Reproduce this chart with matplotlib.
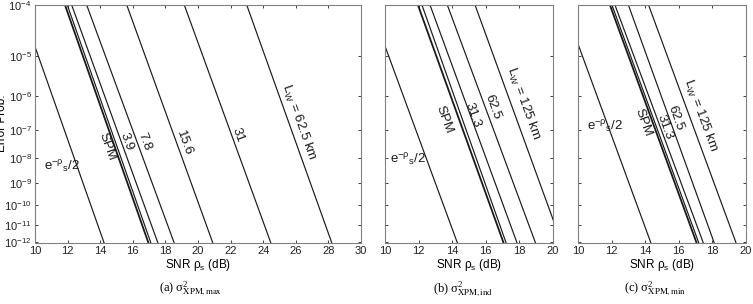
import numpy as np
import matplotlib
matplotlib.use("Agg")
import matplotlib.pyplot as plt

plt.rcParams['font.family'] = ['Liberation Sans', 'DejaVu Sans']
plt.rcParams['mathtext.fontset'] = 'custom'
plt.rcParams['mathtext.rm'] = 'Liberation Sans'
plt.rcParams['mathtext.it'] = 'Liberation Sans:italic'
plt.rcParams['mathtext.default'] = 'regular'

# error probability range (top / bottom of every panel)
P_TOP = 1e-4
P_BOT = 1e-12
yexp = [4, 5, 6, 7, 8, 9, 10, 11, 12]

# each curve: SNR (dB) where it crosses P_TOP and where it crosses P_BOT
a_names = ['exp', 'SPM', '', '3.9', '7.8', '15.6', '31', '62.5']
a_top = [9.1, 11.84, 11.98, 12.25, 13.17, 15.63, 19.16, 22.99]
a_bot = [14.23, 16.95, 17.1, 17.53, 18.53, 20.9, 24.46, 28.2]

b_names = ['exp', 'SPM', '', '31.3', '62.5', '125']
b_top = [9.1, 11.96, 12.2, 12.68, 13.71, 15.36]
b_bot = [14.3, 17.05, 17.2, 17.85, 18.95, 20.5]

c_names = ['exp', 'SPM', '', '31.3', '62.5', '125']
c_top = [9.15, 11.9, 12.02, 12.2, 13.0, 14.2]
c_bot = [14.33, 17.05, 17.18, 17.45, 18.1, 19.4]

captions = [r'(a) $\sigma^2_{\mathrm{XPM,max}}$',
            r'(b) $\sigma^2_{\mathrm{XPM,ind}}$',
            r'(c) $\sigma^2_{\mathrm{XPM,min}}$']

# label placement (axes fraction) for each curve label
a_lab = [(0.083, 0.318), (0.22, 0.403), None, (0.281, 0.425), (0.334, 0.425),
         (0.457, 0.42), (0.623, 0.453), (0.807, 0.505)]
b_lab = [(0.137, 0.347), (0.351, 0.516), None, (0.524, 0.537), (0.643, 0.571),
         (0.821, 0.587)]
c_lab = [(0.161, 0.486), (0.387, 0.503), None, (0.518, 0.486), (0.583, 0.524),
         (0.726, 0.537)]


def fwd(p):
    with np.errstate(all='ignore'):
        return -np.log10(-np.log10(p) - 0.7)


def inv(t):
    with np.errstate(all='ignore'):
        return 10.0 ** (-(10.0 ** (-t) + 0.7))


fig = plt.figure(figsize=(7.53, 3.04), dpi=100)
W, H = 753.0, 304.0
boxes = [(35, 361), (385, 553), (578, 746)]
xmax = [30, 20, 20]
panels = [(a_names, a_top, a_bot, a_lab),
          (b_names, b_top, b_bot, b_lab),
          (c_names, c_top, c_bot, c_lab)]
cap_x = [191, 463, 655]

for i, (names, tops, bots, labs) in enumerate(panels):
    l, r = boxes[i]
    ax = fig.add_axes([l / W, (H - 242.5) / H, (r - l) / W, 237.5 / H])
    ax.set_yscale('function', functions=(fwd, inv))
    ax.set_xlim(10, xmax[i])
    ax.set_ylim(P_BOT, P_TOP)
    ax.set_xticks(np.arange(10, xmax[i] + 1, 2))
    ax.set_yticks([10.0 ** -k for k in yexp])
    ax.yaxis.set_minor_locator(matplotlib.ticker.NullLocator())
    if i == 0:
        ax.set_yticklabels([r'$10^{-%d}$' % k for k in yexp])
        ax.set_ylabel('Error Prob.', fontsize=8.5)
        ax.yaxis.set_label_coords(-0.083, 0.5)
    else:
        ax.set_yticklabels([])
    ax.set_xlabel(r'SNR $\rho_s$ (dB)', fontsize=8.5, labelpad=1)
    ax.tick_params(direction='in', top=True, right=True, length=2.5,
                   width=0.6, labelsize=8, colors='#222222', pad=2.5)
    for sp in ax.spines.values():
        sp.set_color('#808080')
        sp.set_linewidth(0.8)

    for n, x0, x1, lab in zip(names, tops, bots, labs):
        lw = 1.3 if n == 'SPM' else 0.85
        ax.plot([x0, x1], [P_TOP, P_BOT], color='#1a1a1a', lw=lw)
        if lab is None:
            continue
        p0 = ax.transData.transform((x0, P_TOP))
        p1 = ax.transData.transform((x1, P_BOT))
        ang = np.degrees(np.arctan2(p1[1] - p0[1], p1[0] - p0[0]))
        if n == 'exp':
            txt, rot = r'e$^{-\rho}{}_s$/2', 0
        elif n == names[-1]:
            txt, rot = r'$L_W$ = %s km' % n, ang
        else:
            txt, rot = n, ang
        ax.text(lab[0], lab[1], txt, transform=ax.transAxes, rotation=rot,
                rotation_mode='anchor', ha='center', va='center',
                fontsize=9.5, color='#1a1a1a')

    fig.text(cap_x[i] / W, 1 - 289 / H, captions[i], ha='center', va='center',
             family='Liberation Serif', math_fontfamily='stix', fontsize=9)

fig.savefig('out.png', dpi=100)
